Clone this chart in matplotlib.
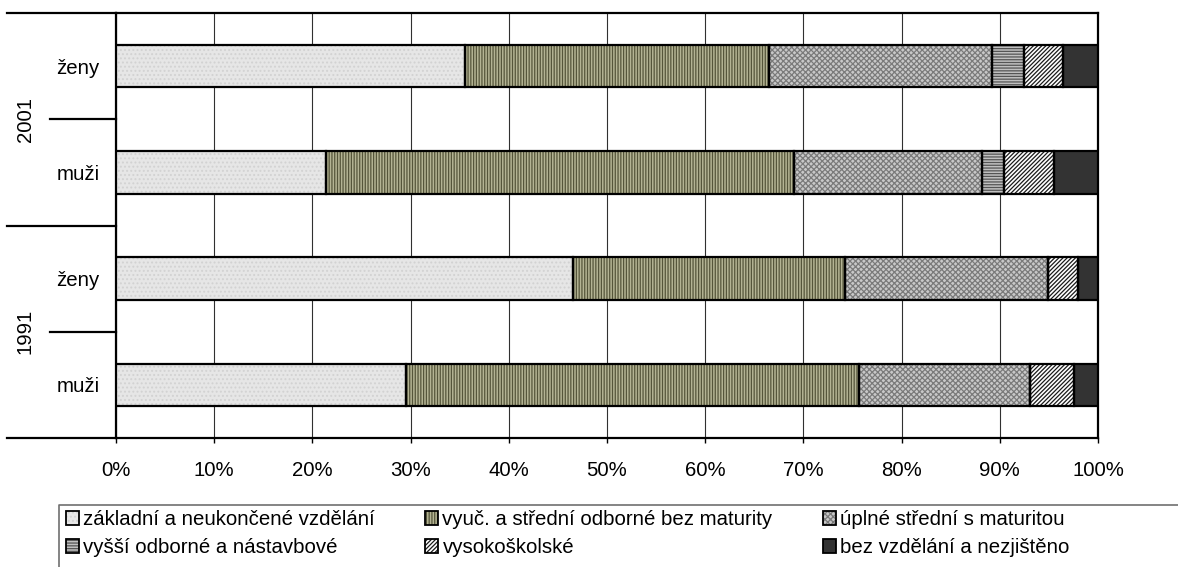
import matplotlib
matplotlib.use("Agg")
import matplotlib.pyplot as plt
from matplotlib.patches import Patch
from matplotlib.lines import Line2D
import numpy as np

plt.rcParams['font.family'] = ['Liberation Sans', 'DejaVu Sans']
plt.rcParams['hatch.linewidth'] = 0.9

# ---- data (bottom to top) ----
categories = ['muži', 'ženy', 'muži', 'ženy']
years = ['1991', '2001']
series_names = ['základní a neukončené vzdělání',
                'vyuč. a střední odborné bez maturity',
                'úplné střední s maturitou',
                'vyšší odborné a nástavbové',
                'vysokoškolské',
                'bez vzdělání a nezjištěno']
zakladni = [29.5, 46.5, 21.4, 35.5]
vyucni = [46.2, 27.7, 47.6, 31.0]
uplne = [17.4, 20.7, 19.2, 22.7]
vyssi = [0.0, 0.0, 2.2, 3.3]
vysokoskolske = [4.5, 3.1, 5.1, 3.9]
bez = [2.4, 2.0, 4.5, 3.6]
xticks = [0, 10, 20, 30, 40, 50, 60, 70, 80, 90, 100]

series = [zakladni, vyucni, uplne, vyssi, vysokoskolske, bez]
# (facecolor, hatch, hatchcolor)
styles = [('#e6e6e6', '....', '#d2d2d2'),
          ('#b4b494', '||||||', '#55553a'),
          ('#c8c8c8', 'xxxxxx', '#7a7a7a'),
          ('#c0c0c0', '------', '#555555'),
          ('#ffffff', '////////', '#1a1a1a'),
          ('#333333', None, '#333333')]

W, H = 1178, 567
fig = plt.figure(figsize=(W / 100, H / 100), dpi=100)
ax = fig.add_axes([116 / W, 1 - 438 / H, 982 / W, 425 / H])

y = np.arange(len(categories))
left = np.zeros(len(categories))
bh = 0.4
for vals, (fc, hat, hc) in zip(series, styles):
    vals = np.array(vals)
    ax.barh(y, vals, left=left, height=bh, color=fc, hatch=hat,
            edgecolor=hc, linewidth=0, zorder=3)
    ax.barh(y, vals, left=left, height=bh, fill=False,
            edgecolor='black', linewidth=1.6, zorder=4)
    left += vals

ax.set_xlim(0, 100)
ax.set_ylim(-0.5, len(categories) - 0.5)
ax.set_xticks(xticks)
ax.set_xticklabels([f'{v}%' for v in xticks])
ax.set_yticks(y)
ax.set_yticklabels(categories)
ax.tick_params(axis='y', length=0, pad=12, labelsize=14.7)
ax.tick_params(axis='x', length=3.6, width=1, direction='out', pad=13,
               labelsize=14.7)
ax.xaxis.grid(True, color='#303030', linewidth=0.8, zorder=0)
ax.set_axisbelow(True)
for s in ['left', 'bottom', 'right', 'top']:
    ax.spines[s].set_linewidth(1.6)
    ax.spines[s].set_color('black')

# group separators and year labels
tr = ax.get_yaxis_transform()
x_long = -109 / 982
x_short = -66 / 982
for yy in [-0.5, 1.5, 3.5]:
    ax.add_line(Line2D([x_long, 0], [yy, yy], transform=tr, color='black',
                       linewidth=1.6, clip_on=False))
for yy in [0.5, 2.5]:
    ax.add_line(Line2D([x_short, 0], [yy, yy], transform=tr, color='black',
                       linewidth=1.6, clip_on=False))
for i, yr in enumerate(years):
    ax.text(-91 / 982, 2 * i + 0.5, yr, transform=tr, rotation=90,
            ha='center', va='center', fontsize=14.7)

# legend
handles = []
for fc, hat, hc in styles:
    p1 = Patch(facecolor=fc, hatch=hat, edgecolor=hc, linewidth=0)
    p2 = Patch(facecolor='none', edgecolor='black', linewidth=1.3)
    handles.append((p1, p2))
order = [0, 3, 1, 4, 2, 5]
leg = fig.legend([handles[i] for i in order], [series_names[i] for i in order],
                 ncol=3, loc='upper left', bbox_to_anchor=(66 / W, 1 - 510 / H),
                 frameon=False, borderpad=0, borderaxespad=0,
                 handlelength=0.65, handleheight=0.65, handletextpad=0.2,
                 columnspacing=2.45, labelspacing=0.45, fontsize=14.7)

fig.add_artist(Line2D([59 / W, 59 / W, 1.0], [0.0, 1 - 505 / H, 1 - 505 / H],
                      transform=fig.transFigure, color='#707070',
                      linewidth=1.2))

fig.savefig('out.png', dpi=100)
